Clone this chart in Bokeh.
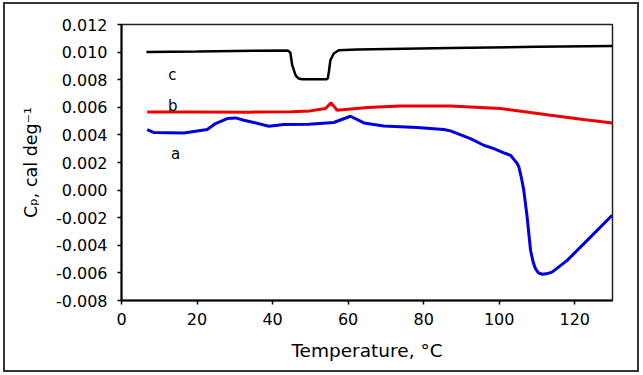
from bokeh.plotting import figure
from bokeh.models import FixedTicker, NumeralTickFormatter, Range1d
from bokeh.core.properties import value
from bokeh.embed import file_html
from bokeh.resources import INLINE

# ---- data ----
temp_a = [6.8, 8.6, 16.5, 22.7, 24.9, 28.0, 30.2, 32.4, 35.0, 39.0, 43.0, 49.6, 56.2, 60.6, 64.2,
          69.4, 78.3, 85.3, 87.1, 92.4, 95.9, 98.6, 101.7, 103.0, 104.8, 105.2, 105.9, 106.5, 107.4,
          108.3, 109.0, 109.6, 110.4, 111.4, 112.5, 114.0, 118.0, 123.3, 129.9]
cp_a = [0.00439, 0.00417, 0.00414, 0.00439, 0.00482, 0.00518, 0.00523, 0.00506, 0.00490, 0.00463,
        0.00475, 0.00477, 0.00490, 0.00535, 0.00487, 0.00465, 0.00453, 0.00439, 0.00429, 0.00373,
        0.00325, 0.00301, 0.00265, 0.00252, 0.00192, 0.00168, 0.00086, 0.00000, -0.00195, -0.00436,
        -0.00523, -0.00569, -0.00600, -0.00610, -0.00607, -0.00594, -0.00509, -0.00364, -0.00183]

temp_b = [6.8, 20, 34.2, 45, 50.0, 54.0, 55.5, 57.1, 65.1, 73.9, 87.1, 100.3, 113.6, 122.3, 130]
cp_b = [0.00566, 0.00566, 0.00565, 0.00568, 0.00574, 0.00591, 0.00632, 0.00579, 0.00598, 0.00610,
        0.00610, 0.00591, 0.00542, 0.00511, 0.00487]

temp_c = [6.6, 20, 35, 44.0, 44.7, 45.2, 46.1, 46.9, 47.8, 54.2, 54.6, 54.9, 55.3, 56.2, 57.5, 62.4,
          87.1, 110, 130]
cp_c = [0.01001, 0.01005, 0.01010, 0.01012, 0.00997, 0.00905, 0.00832, 0.00808, 0.00803, 0.00803,
        0.00808, 0.00856, 0.00941, 0.00990, 0.01014, 0.01019, 0.01030, 0.01038, 0.01045]

curve_names = ["a", "b", "c"]
label_x = [14.3, 13.6, 13.5]
label_y = [0.00260, 0.00608, 0.00832]

x_ticks = [0, 20, 40, 60, 80, 100, 120]
y_ticks = [-0.008, -0.006, -0.004, -0.002, 0.0, 0.002, 0.004, 0.006, 0.008, 0.010, 0.012]

FONT = "DejaVu Sans"

p = figure(width=632, height=366, output_backend="svg", toolbar_location=None,
           x_range=Range1d(0, 130), y_range=Range1d(-0.008, 0.012),
           min_border_left=116, min_border_right=25, min_border_top=20, min_border_bottom=70)

# outer picture border drawn as a CSS outline just outside the figure element
p.styles = {"margin-left": "5px", "margin-top": "4px",
            "outline": "2px solid #333333", "outline-offset": "0px"}

p.line(temp_c, cp_c, line_color="black", line_width=2.5)
p.line(temp_b, cp_b, line_color="#ee0000", line_width=3)
p.line(temp_a, cp_a, line_color="#0000e0", line_width=3)

p.text(x=label_x, y=label_y, text=curve_names, text_font=value(FONT), text_font_size="15px",
       text_align="center", text_baseline="alphabetic", text_color="black")

p.xgrid.visible = False
p.ygrid.visible = False
p.outline_line_color = "#222222"
p.outline_line_width = 1.5
p.background_fill_color = "white"
p.border_fill_color = "white"

for ax in (p.xaxis[0], p.yaxis[0]):
    ax.axis_line_color = "black"
    ax.axis_line_width = 2
    ax.major_tick_line_color = "black"
    ax.major_tick_line_width = 1.5
    ax.major_tick_in = 0
    ax.major_tick_out = 4
    ax.minor_tick_line_color = None
    ax.major_label_text_font = FONT
    ax.major_label_text_font_size = "16px"
    ax.major_label_text_color = "black"
    ax.axis_label_text_font = FONT
    ax.axis_label_text_font_style = "normal"
    ax.axis_label_text_color = "black"

p.xaxis.ticker = FixedTicker(ticks=x_ticks)
p.yaxis.ticker = FixedTicker(ticks=y_ticks)
p.yaxis.formatter = NumeralTickFormatter(format="0.000")
p.xaxis.major_label_standoff = 8
p.yaxis.major_label_standoff = 10

p.xaxis.axis_label = "Temperature, \u00b0C"
p.xaxis.axis_label_text_font_size = "18.5px"
p.xaxis.axis_label_standoff = 12
p.yaxis.axis_label = "C\u209a, cal deg\u207b\u00b9"
p.yaxis.axis_label_text_font_size = "17.5px"
p.yaxis.axis_label_standoff = 12

open("out.html", "w").write(file_html(p, INLINE))
